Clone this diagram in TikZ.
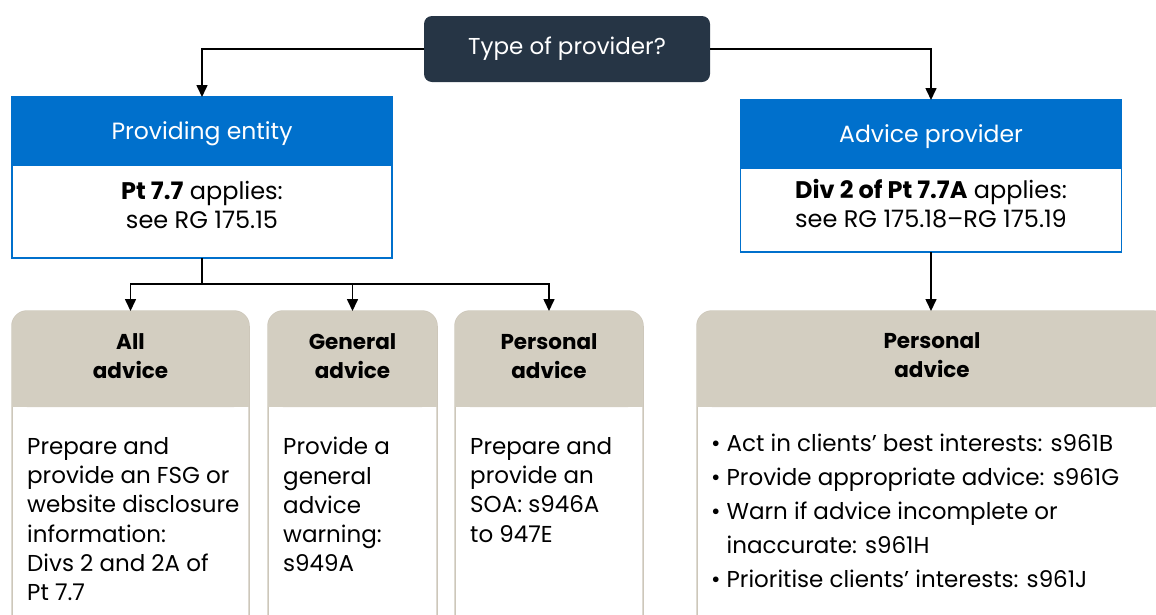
\documentclass[tikz,border=0pt]{standalone}
\usepackage{fontspec}
\setmainfont{Poppins}
\usetikzlibrary{calc}
\usetikzlibrary{arrows.meta}
\usetikzlibrary{positioning}

\definecolor{navybox}{RGB}{38,53,69}
\definecolor{bluebox}{RGB}{0,112,204}
\definecolor{tanfill}{RGB}{211,206,193}
\definecolor{tanline}{RGB}{205,199,186}

\begin{document}
\begin{tikzpicture}[x=1pt, y=-1pt,
  arr/.style={-{Triangle[width=11pt,length=12pt]}, line width=1.6pt},
  qbox/.style={fill=navybox, rounded corners=8pt, text=white, minimum width=286pt, minimum height=66pt, font=\fontsize{23}{27}\selectfont},
  bhead/.style={fill=bluebox, draw=bluebox, line width=1.5pt, text=white, minimum height=68pt, text depth=0pt, outer sep=0pt, font=\fontsize{23.5}{27}\selectfont},
  bbody/.style={fill=white, draw=bluebox, line width=1.5pt, align=center, text depth=14pt, outer sep=0pt, font=\fontsize{24}{29}\selectfont},
  tancol/.style={fill=white, draw=tanline, line width=1.5pt, rounded corners=15pt, anchor=north west, minimum height=330pt, outer sep=0pt},
  thead/.style={align=center, font=\bfseries\fontsize{21.5}{29}\selectfont},
  ctext/.style={align=left, anchor=north west, inner sep=0pt, font=\fontsize{23}{29.3}\selectfont}]

\useasboundingbox (0,0) rectangle (1156,614);
\clip (0,0) rectangle (1156,614);

% question
\node[qbox] (type) at (567,49) {Type of provider?};

% the two kinds of provider
\node[bhead, minimum width=380pt] (provhead) at (202,131) {Providing entity};
\node[bbody, minimum width=380pt, minimum height=93pt, below=0pt of provhead] (provbody) {\textbf{Pt 7.7} applies:\\see RG 175.15};

\node[bhead, minimum width=381pt] (advhead) at (931,134) {Advice provider};
\node[bbody, minimum width=381pt, minimum height=84pt, below=0pt of advhead] (advbody) {\textbf{Div 2 of Pt 7.7A} applies:\\see RG 175.18--RG 175.19};

% columns
\node[tancol, minimum width=237pt] (allcol) at (12,311) {};
\node[tancol, minimum width=169pt] (gencol) at (268,311) {};
\node[tancol, minimum width=188pt] (perscol) at (455,311) {};
\node[tancol, minimum width=470pt] (advcol) at (697,311) {};

\foreach \c in {allcol,gencol,perscol,advcol}{
  \fill[tanfill, rounded corners=15pt] (\c.north west) rectangle ([yshift=-96pt]\c.north east);
  \fill[tanfill] ([yshift=-70pt]\c.north west) rectangle ([yshift=-96pt]\c.north east);
}

\node[thead] (allhead) at ([yshift=-45pt]allcol.north) {All\\advice};
\node[thead] (genhead) at ([yshift=-45pt]gencol.north) {General\\advice};
\node[thead] (pershead) at ([yshift=-45pt]perscol.north) {Personal\\advice};
\node[thead] (advchead) at ([yshift=-44pt]advcol.north) {Personal\\advice};

\node[ctext] (alltext) at ([shift={(15pt,-126pt)}]allcol.north west) {Prepare and\\provide an FSG or\\website disclosure\\information:\\Divs 2 and 2A of\\Pt 7.7};
\node[ctext] (gentext) at ([shift={(15pt,-126pt)}]gencol.north west) {Provide a\\general\\advice\\warning:\\s949A};
\node[ctext] (perstext) at ([shift={(15pt,-126pt)}]perscol.north west) {Prepare and\\provide an\\SOA: s946A\\to 947E};
\node[ctext, font=\fontsize{23}{34}\selectfont] (advtext) at ([shift={(14pt,-116pt)}]advcol.north west) {\begin{tabular}{@{}l@{\hspace{6pt}}l@{}}
\textbullet & Act in clients’ best interests: s961B\\
\textbullet & Provide appropriate advice: s961G\\
\textbullet & Warn if advice incomplete or\\
 & inaccurate: s961H\\
\textbullet & Prioritise clients’ interests: s961J
\end{tabular}};

% connectors
\draw[arr] (type.west) -| (provhead.north);
\draw[arr] (type.east) -| (advhead.north);
\coordinate (fork) at ($(provbody.south)+(0,26)$);
\draw[line width=1.6pt] (provbody.south) -- (fork);
\draw[arr] (fork) -| (allcol.north);
\draw[arr] (fork) -| (gencol.north);
\draw[arr] (fork) -| (perscol.north);
\draw[arr] (advbody.south) -- (advbody.south |- advcol.north);

\end{tikzpicture}
\end{document}
